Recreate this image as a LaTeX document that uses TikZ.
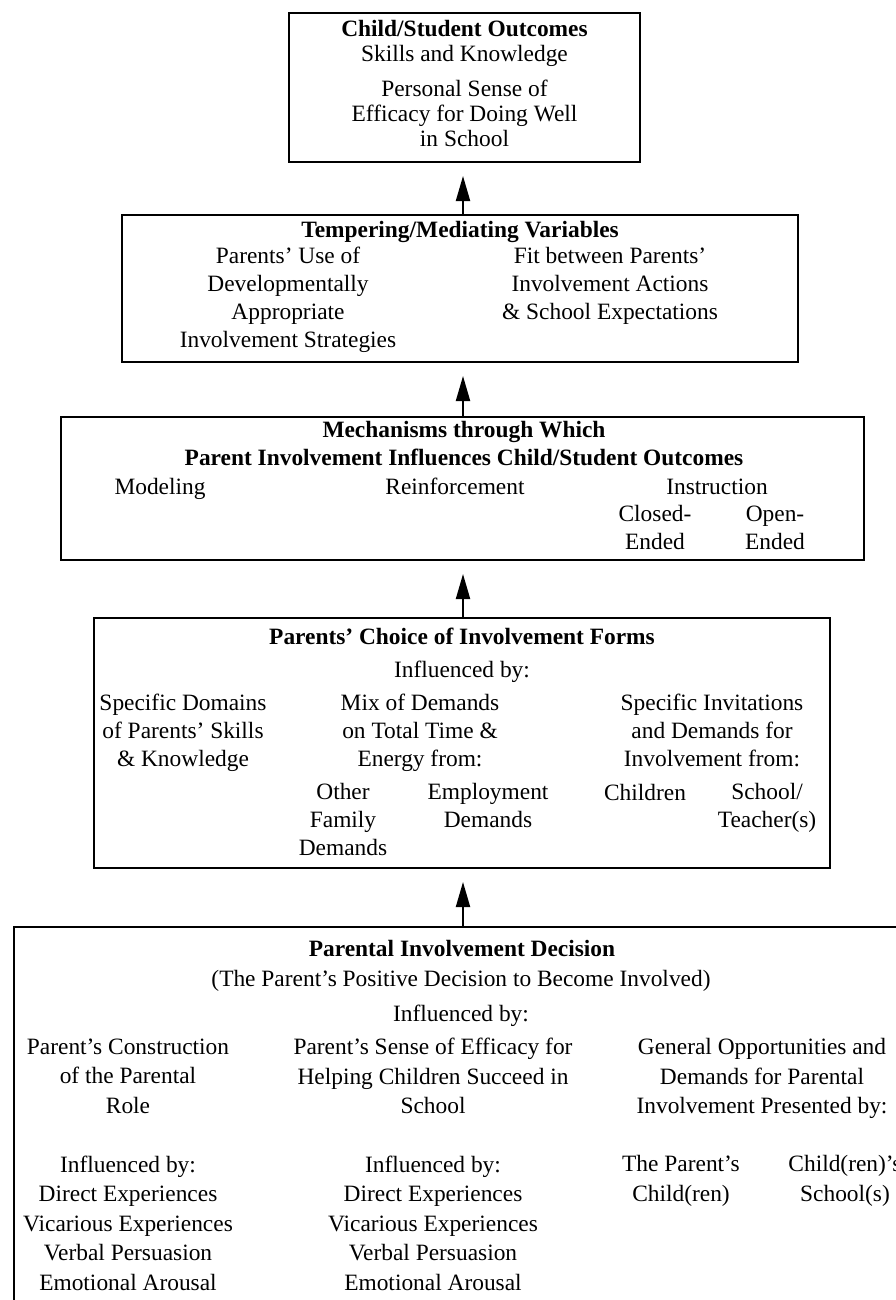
\documentclass[tikz,border=0pt]{standalone}
\usepackage{fontspec}
\setmainfont{Liberation Serif}
\usetikzlibrary{arrows.meta}
\newcommand\fsz{\fontsize{23.4pt}{28pt}\selectfont}
\tikzset{
  >={Triangle[length=25pt,width=14pt]},
  bx/.style  ={draw, line width=2pt, inner sep=0pt},
  tx/.style  ={align=center, inner sep=0pt, font=\fsz, yshift=-4pt,
               execute at begin node=\strut, execute at end node=\strut},
  hd/.style  ={tx, font=\fsz\bfseries},
  lead/.style={font=\fontsize{23.4pt}{#1}\selectfont},
  up/.style  ={->, line width=2pt, shorten >=13pt}
}

\begin{document}
\begin{tikzpicture}[x=1pt,y=-1pt]
\useasboundingbox (0,0) rectangle (896,1300);
\clip (0,0) rectangle (896,1300);

% boxes
\node[bx, minimum width=351pt, minimum height=149pt] (outc)  at (464.5,87.5)  {};
\node[bx, minimum width=676pt, minimum height=147pt] (tempr) at (460,288.5)   {};
\node[bx, minimum width=803pt, minimum height=143pt] (mech)  at (462.5,488.5) {};
\node[bx, minimum width=736pt, minimum height=250pt] (choice) at (462,743)    {};
\node[bx, minimum width=898pt, minimum height=403pt] (decis) at (463,1128.5)  {};

% outcomes
\node[hd] (outcT) at (464.5,27) {Child/Student Outcomes};
\node[tx] (skill) at (464.5,52) {Skills and Knowledge};
\node[tx, lead=25pt] (effic) at (464.5,113) {Personal Sense of\\Efficacy for Doing Well\\in School};

% tempering
\node[hd] (temprT) at (460,228) {Tempering/Mediating Variables};
\node[tx] (devel) at (288,297.5) {Parents' Use of\\Developmentally\\Appropriate\\Involvement Strategies};
\node[tx] (fit)   at (610,284) {Fit between Parents'\\Involvement Actions\\\& School Expectations};

% mechanisms
\node[hd] (mechT) at (464,444) {Mechanisms through Which\\Parent Involvement Influences Child/Student Outcomes};
\node[tx] (model) at (160,485) {Modeling};
\node[tx] (reinf) at (455,485) {Reinforcement};
\node[tx] (instr) at (717,485) {Instruction};
\node[tx] (closed) at (655,527.5) {Closed-\\Ended};
\node[tx] (open)   at (775,527.5) {Open-\\Ended};

% choice of forms
\node[hd] (choiceT) at (462,635) {Parents' Choice of Involvement Forms};
\node[tx] (infl4)   at (462,668) {Influenced by:};
\node[tx] (domain)  at (183,730) {Specific Domains\\of Parents' Skills\\\& Knowledge};
\node[tx] (mix)     at (420,730) {Mix of Demands\\on Total Time \&\\Energy from:};
\node[tx] (family)  at (343,820) {Other\\Family\\Demands};
\node[tx] (employ)  at (488,805.5) {Employment\\Demands};
\node[tx] (invit)   at (712,730) {Specific Invitations\\and Demands for\\Involvement from:};
\node[tx] (kids)    at (645,791) {Children};
\node[tx] (teach)   at (767,805.5) {School/\\Teacher(s)};

% decision
\node[hd] (decisT) at (462,947) {Parental Involvement Decision};
\node[tx] (posit)  at (461,977) {(The Parent's Positive Decision to Become Involved)};
\node[tx] (infl5)  at (461,1012) {Influenced by:};
\node[tx, lead=29.5pt] (role)   at (128,1076.5) {Parent's Construction\\of the Parental\\Role};
\node[tx, lead=29.5pt] (selfef) at (433,1076.5) {Parent's Sense of Efficacy for\\Helping Children Succeed in\\School};
\node[tx, lead=29.5pt] (opport) at (762,1076.5) {General Opportunities and\\Demands for Parental\\Involvement Presented by:};
\node[tx, lead=29.5pt] (roleby) at (128,1223.5) {Influenced by:\\Direct Experiences\\Vicarious Experiences\\Verbal Persuasion\\Emotional Arousal};
\node[tx, lead=29.5pt] (selfby) at (433,1223.5) {Influenced by:\\Direct Experiences\\Vicarious Experiences\\Verbal Persuasion\\Emotional Arousal};
\node[tx, lead=29.5pt] (pchild) at (681,1179) {The Parent's\\Child(ren)};
\node[tx, lead=29.5pt] (school) at (845,1179) {Child(ren)'s\\School(s)};

% arrows
\coordinate (ax) at (463,0);
\draw[up] (tempr.north -| ax)  -- (outc.south -| ax);
\draw[up] (mech.north -| ax)   -- (tempr.south -| ax);
\draw[up] (choice.north -| ax) -- (mech.south -| ax);
\draw[up] (decis.north -| ax)  -- (choice.south -| ax);
\end{tikzpicture}
\end{document}
